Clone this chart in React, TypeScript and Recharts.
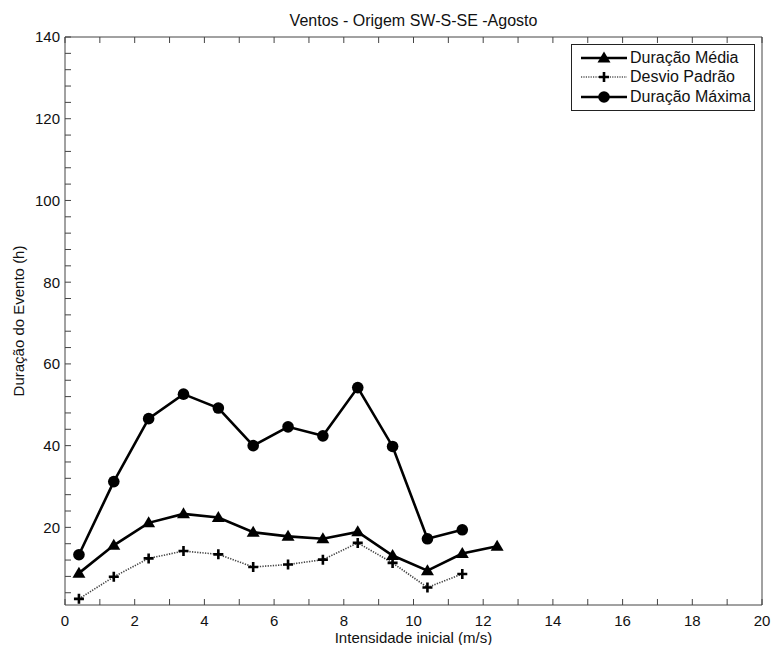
import { Label, Legend, Line, LineChart, XAxis, YAxis } from "recharts";

// Intensidade inicial (m/s) - centro de cada classe
const speeds = [0.4, 1.4, 2.4, 3.4, 4.4, 5.4, 6.4, 7.4, 8.4, 9.4, 10.4, 11.4, 12.4];
// Duração (h)
const mediaH = [8.8, 15.6, 21.1, 23.3, 22.4, 18.8, 17.8, 17.2, 18.9, 13.1, 9.4, 13.6, 15.4];
const desvioH = [2.5, 7.9, 12.4, 14.2, 13.4, 10.3, 10.9, 12.1, 16.2, 11.3, 5.3, 8.6, null];
const maximaH = [13.3, 31.2, 46.6, 52.6, 49.2, 40.0, 44.6, 42.4, 54.2, 39.8, 17.2, 19.4, null];

const xTicks = [0, 1, 2, 3, 4, 5, 6, 7, 8, 9, 10, 11, 12, 13, 14, 15, 16, 17, 18, 19, 20];
const yTicks = [4, 8, 12, 16, 20, 24, 28, 32, 36, 40, 44, 48, 52, 56, 60, 64, 68, 72, 76, 80, 84, 88, 92, 96, 100, 104, 108, 112, 116, 120, 124, 128, 132, 136, 140];

const seriesOrder = ["media", "desvio", "maxima"];

const data = speeds.map((x, i) => ({
  x,
  media: mediaH[i],
  desvio: desvioH[i],
  maxima: maximaH[i],
}));

const FONT = "'Liberation Sans', Arial, Helvetica, sans-serif";
const INK = "#111";
const AXIS = "#444";

type Marker = "triangle" | "plus" | "circle";

function drawMarker(kind: Marker, cx: number, cy: number, key?: string | number) {
  if (kind === "triangle") {
    return (
      <polygon
        key={key}
        points={`${cx},${cy - 6.5} ${cx - 6.5},${cy + 4.5} ${cx + 6.5},${cy + 4.5}`}
        fill="#000"
      />
    );
  }
  if (kind === "plus") {
    return (
      <path
        key={key}
        d={`M${cx - 5},${cy}H${cx + 5}M${cx},${cy - 5}V${cy + 5}`}
        stroke="#000"
        strokeWidth={2.6}
        fill="none"
      />
    );
  }
  return <circle key={key} cx={cx} cy={cy} r={5.8} fill="#000" />;
}

const markerDot = (kind: Marker) => (p: any) => {
  if (p.cx == null || p.cy == null || p.value == null) return <g key={p.index} />;
  return drawMarker(kind, p.cx, p.cy, p.index);
};

const markers: Record<string, Marker> = {
  media: "triangle",
  desvio: "plus",
  maxima: "circle",
};

function LegendBox({ payload }: any) {
  const items = seriesOrder
    .map((k) => (payload || []).find((e: any) => e.dataKey === k))
    .filter(Boolean);
  return (
    <div
      style={{
        border: "1px solid #222",
        background: "#fff",
        padding: "3px 0 3px 8px",
        fontFamily: FONT,
        fontSize: 16,
        color: INK,
      }}
    >
      {items.map((e: any) => {
        const dashed = e.dataKey === "desvio";
        return (
          <div key={e.dataKey} style={{ display: "flex", alignItems: "center", height: 19.5 }}>
            <svg width={48} height={16} style={{ marginRight: 2 }}>
              <line
                x1={1}
                x2={47}
                y1={8}
                y2={8}
                stroke={dashed ? "#555" : "#000"}
                strokeWidth={dashed ? 1.5 : 2.6}
                strokeDasharray={dashed ? "1.2 1.2" : undefined}
              />
              {drawMarker(markers[e.dataKey], 24, 8)}
            </svg>
            <span>{e.value}</span>
          </div>
        );
      })}
    </div>
  );
}

export default function App() {
  return (
    <div style={{ position: "absolute", left: 0, top: 0, background: "#fff" }}>
      <LineChart
        width={771}
        height={645}
        data={data}
        margin={{ top: 36, right: 8, left: 0, bottom: 0 }}
        style={{ fontFamily: FONT }}
      >
        <XAxis
          xAxisId="b"
          type="number"
          dataKey="x"
          domain={[0, 20]}
          ticks={xTicks}
          height={40}
          tickSize={-6}
          tickMargin={16}
          tickFormatter={(v: number) => (v % 2 === 0 ? String(v) : "")}
          tick={{ fill: INK, fontSize: 15 }}
          axisLine={{ stroke: AXIS }}
          tickLine={{ stroke: AXIS }}
        >
          <Label
            value="Intensidade inicial (m/s)"
            position="insideBottom"
            offset={2}
            style={{ fill: INK, fontSize: 15 }}
          />
        </XAxis>
        <XAxis
          xAxisId="t"
          orientation="top"
          type="number"
          dataKey="x"
          domain={[0, 20]}
          ticks={xTicks}
          height={1}
          tickSize={-6}
          tickFormatter={() => ""}
          axisLine={{ stroke: AXIS }}
          tickLine={{ stroke: AXIS }}
        >
          <Label
            value="Ventos - Origem SW-S-SE -Agosto"
            position="top"
            offset={10}
            style={{ fill: INK, fontSize: 16 }}
          />
        </XAxis>
        <YAxis
          yAxisId="l"
          type="number"
          domain={[1, 140]}
          ticks={yTicks}
          width={65}
          tickSize={-6}
          tickMargin={11}
          tickFormatter={(v: number) => (v % 20 === 0 ? String(v) : "")}
          tick={{ fill: INK, fontSize: 15 }}
          axisLine={{ stroke: AXIS }}
          tickLine={{ stroke: AXIS }}
        >
          <Label
            value="Duração do Evento (h)"
            angle={-90}
            position="insideLeft"
            offset={18.5}
            style={{ fill: INK, fontSize: 15, textAnchor: "middle" }}
          />
        </YAxis>
        <YAxis
          yAxisId="r"
          orientation="right"
          type="number"
          domain={[1, 140]}
          ticks={yTicks}
          width={1}
          tickSize={-6}
          tickFormatter={() => ""}
          axisLine={{ stroke: AXIS }}
          tickLine={{ stroke: AXIS }}
        />
        <Legend
          layout="vertical"
          align="center"
          verticalAlign="middle"
          wrapperStyle={{ top: 44, left: 571, width: 184 }}
          content={LegendBox}
        />
        <Line
          xAxisId="b"
          yAxisId="l"
          type="linear"
          dataKey="media"
          name="Duração Média"
          stroke="#000"
          strokeWidth={2.6}
          dot={markerDot("triangle")}
          activeDot={false}
          isAnimationActive={false}
        />
        <Line
          xAxisId="b"
          yAxisId="l"
          type="linear"
          dataKey="desvio"
          name="Desvio Padrão"
          stroke="#444"
          strokeWidth={1.6}
          strokeDasharray="1.3 1.3"
          dot={markerDot("plus")}
          activeDot={false}
          isAnimationActive={false}
        />
        <Line
          xAxisId="b"
          yAxisId="l"
          type="linear"
          dataKey="maxima"
          name="Duração Máxima"
          stroke="#000"
          strokeWidth={2.6}
          dot={markerDot("circle")}
          activeDot={false}
          isAnimationActive={false}
        />
      </LineChart>
    </div>
  );
}
